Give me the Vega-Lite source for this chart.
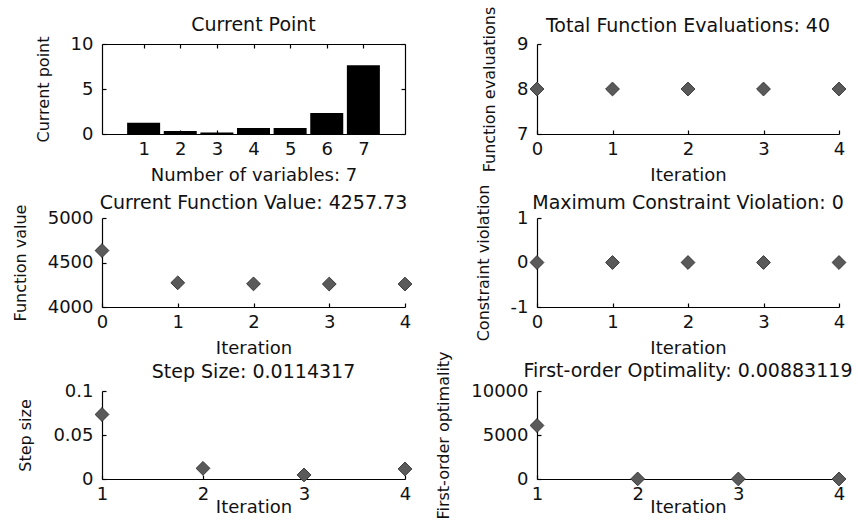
{
  "$schema": "https://vega.github.io/schema/vega-lite/v6.json",
  "autosize": {"type": "none"},
  "padding": {"left": 102, "top": 44, "right": 756, "bottom": 482},
  "background": "white",
  "config": {
    "font": "DejaVu Sans",
    "view": {"stroke": null},
    "axis": {"domainColor": "#000", "tickColor": "#000", "labelColor": "#111", "titleColor": "#111", "labelFont": "DejaVu Sans", "titleFont": "DejaVu Sans", "labelFontSize": 18, "titleFontSize": 18, "titleFontWeight": "normal", "grid": false, "tickSize": -4, "labelPadding": 13, "labelFlush": false, "labelOverlap": false, "titlePadding": 8, "domainWidth": 1.2, "tickWidth": 1.2, "zindex": 1},
    "axisY": {"titleFontSize": 16, "titlePadding": 19},
    "axisX": {"labelPadding": 10},
    "title": {"font": "DejaVu Sans", "fontSize": 19, "fontWeight": "normal", "color": "#111", "offset": 10, "frame": "group"}
  },
  "datasets": {
    "cp": [{"v": 1, "val": 1.26}, {"v": 2, "val": 0.33}, {"v": 3, "val": 0.18}, {"v": 4, "val": 0.67}, {"v": 5, "val": 0.67}, {"v": 6, "val": 2.33}, {"v": 7, "val": 7.63}],
    "fe": [{"it": 0, "n": 8}, {"it": 1, "n": 8}, {"it": 2, "n": 8}, {"it": 3, "n": 8}, {"it": 4, "n": 8}],
    "fv": [{"it": 0, "f": 4634}, {"it": 1, "f": 4272}, {"it": 2, "f": 4260}, {"it": 3, "f": 4258}, {"it": 4, "f": 4257.73}],
    "cv": [{"it": 0, "c": 0}, {"it": 1, "c": 0}, {"it": 2, "c": 0}, {"it": 3, "c": 0}, {"it": 4, "c": 0}],
    "ss": [{"it": 1, "s": 0.0733}, {"it": 2, "s": 0.0121}, {"it": 3, "s": 0.0046}, {"it": 4, "s": 0.0114317}],
    "fo": [{"it": 1, "o": 6080}, {"it": 2, "o": 10}, {"it": 3, "o": 2}, {"it": 4, "o": 0.00883119}]
  },
  "columns": 2,
  "spacing": {"row": 84, "column": 132},
  "bounds": "flush",
  "concat": [
    {
      "title": {"text": "Current Point", "dy": 10},
      "width": 303, "height": 90,
      "data": {"name": "cp"},
      "layer": [
        {
          "mark": {"type": "bar", "color": "#000", "size": 33},
          "encoding": {
            "x": {"field": "v", "type": "quantitative", "scale": {"domain": [0, 8], "nice": false}, "axis": {"values": [1, 2, 3, 4, 5, 6, 7], "format": "d", "title": "Number of variables: 7"}},
            "y": {"field": "val", "type": "quantitative", "scale": {"domain": [0, 10], "nice": false}, "axis": {"values": [0, 5, 10], "format": "d", "title": "Current point"}}
          }
        },
        {
          "mark": {"type": "bar", "opacity": 0, "size": 33},
          "encoding": {
            "x": {"field": "v", "type": "quantitative", "scale": {"domain": [0, 8], "nice": false}, "axis": {"orient": "top", "values": [1, 2, 3, 4, 5, 6, 7], "labels": false, "title": null}},
            "y": {"field": "val", "type": "quantitative", "scale": {"domain": [0, 10], "nice": false}, "axis": {"orient": "right", "values": [0, 5, 10], "labels": false, "title": null}}
          }
        }
      ],
      "resolve": {"axis": {"x": "independent", "y": "independent"}}
    },
    {
      "title": {"text": "Total Function Evaluations: 40", "dy": 40},
      "width": 302, "height": 90,
      "data": {"name": "fe"},
      "mark": {"type": "point", "shape": "diamond", "filled": true, "size": 190, "fill": "#5a5a5a", "stroke": "#3a3a3a", "strokeWidth": 1, "opacity": 1},
      "encoding": {
        "x": {"field": "it", "type": "quantitative", "scale": {"domain": [0, 4], "nice": false}, "axis": {"values": [0, 1, 2, 3, 4], "format": "d", "title": "Iteration"}},
        "y": {"field": "n", "type": "quantitative", "scale": {"domain": [7, 9], "nice": false, "zero": false}, "axis": {"values": [7, 8, 9], "labelExpr": "'' + datum.value", "title": "Function evaluations"}}
      }
    },
    {
      "title": {"text": "Current Function Value: 4257.73", "dy": 19},
      "width": 303, "height": 89,
      "data": {"name": "fv"},
      "mark": {"type": "point", "shape": "diamond", "filled": true, "size": 190, "fill": "#5a5a5a", "stroke": "#3a3a3a", "strokeWidth": 1, "opacity": 1},
      "encoding": {
        "x": {"field": "it", "type": "quantitative", "scale": {"domain": [0, 4], "nice": false}, "axis": {"values": [0, 1, 2, 3, 4], "format": "d", "title": "Iteration"}},
        "y": {"field": "f", "type": "quantitative", "scale": {"domain": [4000, 5000], "nice": false, "zero": false}, "axis": {"values": [4000, 4500, 5000], "format": "d", "title": "Function value"}}
      }
    },
    {
      "title": {"text": "Maximum Constraint Violation: 0", "dy": 39},
      "width": 302, "height": 89,
      "data": {"name": "cv"},
      "mark": {"type": "point", "shape": "diamond", "filled": true, "size": 190, "fill": "#5a5a5a", "stroke": "#3a3a3a", "strokeWidth": 1, "opacity": 1},
      "encoding": {
        "x": {"field": "it", "type": "quantitative", "scale": {"domain": [0, 4], "nice": false}, "axis": {"values": [0, 1, 2, 3, 4], "format": "d", "title": "Iteration"}},
        "y": {"field": "c", "type": "quantitative", "scale": {"domain": [-1, 1], "nice": false}, "axis": {"values": [-1, 0, 1], "labelExpr": "'' + datum.value", "title": "Constraint violation"}}
      }
    },
    {
      "title": {"text": "Step Size: 0.0114317", "dy": 10},
      "width": 303, "height": 88,
      "data": {"name": "ss"},
      "mark": {"type": "point", "shape": "diamond", "filled": true, "size": 190, "fill": "#5a5a5a", "stroke": "#3a3a3a", "strokeWidth": 1, "opacity": 1},
      "encoding": {
        "x": {"field": "it", "type": "quantitative", "scale": {"domain": [1, 4], "nice": false, "zero": false}, "axis": {"values": [1, 2, 3, 4], "format": "d", "title": "Iteration", "titlePadding": -5}},
        "y": {"field": "s", "type": "quantitative", "scale": {"domain": [0, 0.1], "nice": false}, "axis": {"values": [0, 0.05, 0.1], "format": "~g", "title": "Step size"}}
      }
    },
    {
      "title": {"text": "First-order Optimality: 0.00883119", "dy": 40},
      "width": 302, "height": 88,
      "data": {"name": "fo"},
      "mark": {"type": "point", "shape": "diamond", "filled": true, "size": 190, "fill": "#5a5a5a", "stroke": "#3a3a3a", "strokeWidth": 1, "opacity": 1},
      "encoding": {
        "x": {"field": "it", "type": "quantitative", "scale": {"domain": [1, 4], "nice": false, "zero": false}, "axis": {"values": [1, 2, 3, 4], "format": "d", "title": "Iteration", "titlePadding": -5}},
        "y": {"field": "o", "type": "quantitative", "scale": {"domain": [0, 10000], "nice": false}, "axis": {"values": [0, 5000, 10000], "format": "d", "title": "First-order optimality"}}
      }
    }
  ]
}
